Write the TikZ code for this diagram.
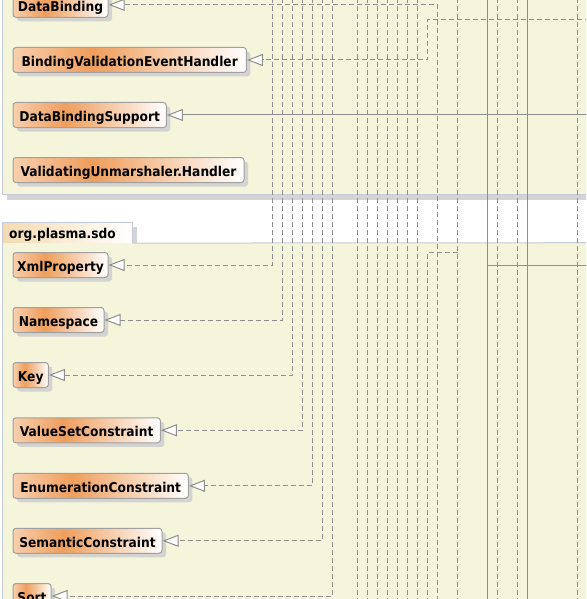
\documentclass[tikz,border=0pt]{standalone}
\usepackage{fontspec}
\newfontfamily\clsfont{DejaVu Sans}[FakeStretch=0.907]
\usetikzlibrary{arrows.meta,shadows}
\definecolor{pkgbg}{HTML}{F5F5DC}
\definecolor{pkgline}{HTML}{C5CAD9}
\definecolor{pkgshadow}{HTML}{D4D4D8}
\definecolor{lnc}{HTML}{8E8E8E}
\definecolor{clsline}{HTML}{A0A0A0}
\definecolor{clsA}{HTML}{F8CFAE}
\definecolor{clsB}{HTML}{EF9E5C}
\definecolor{tabc}{HTML}{F5DAB0}
\definecolor{shc}{HTML}{D3D3CF}
\pgfdeclarehorizontalshading{clsgrad}{100bp}{color(0bp)=(clsA); color(25bp)=(clsA); color(42bp)=(clsB); color(75bp)=(white); color(100bp)=(white)}
\tikzset{
  cls/.style={draw=clsline, line width=1pt, rounded corners=3pt, shading=clsgrad,
    minimum height=25pt, inner sep=0pt, anchor=west, text height=13pt, text depth=0.2pt,
    font=\clsfont\bfseries\fontsize{13.5}{16}\selectfont,
    drop shadow={shadow xshift=4pt, shadow yshift=-4pt, fill=shc, opacity=1}},
  tabst/.style={anchor=north west, minimum width=129.6pt, minimum height=20.4pt,
    text width=117pt, inner xsep=6.3pt, inner ysep=0pt, align=left,
    left color=tabc, right color=white, text height=12pt, text depth=0.4pt,
    font=\clsfont\bfseries\fontsize{13.5}{16}\selectfont},
  dep/.style={draw=lnc, line width=1pt, dash pattern=on 5pt off 3pt},
  real/.style={draw=lnc, line width=1pt},
  gen/.style={-{Triangle[length=16pt,width=12pt,fill=white]}},
  pkgborder/.style={draw=pkgline, line width=1pt},
}
\begin{document}
\begin{tikzpicture}[x=1pt,y=-1pt]
\useasboundingbox (0,0) rectangle (586,599);
\clip (0,0) rectangle (586,599);
\fill[white] (0,0) rectangle (586,599);
% top package
\fill[pkgshadow] (6.7,194.3) rectangle (600,200.3);
\fill[pkgbg] (2.7,-10) rectangle (600,194.3);
\draw[pkgborder] (2.7,-10) -- (2.7,194.3) -- (600,194.3);
% org.plasma.sdo package
\fill[pkgshadow] (132.3,227) rectangle (136.7,242.7);
\fill[pkgbg] (2.7,242.7) rectangle (600,610);
\node[tabst] (tab) at (2.7,222.3) {org.plasma.sdo};
\draw[pkgborder] (tab.south west) |- (tab.north east) -- (tab.south east);
\draw[pkgborder] (2.7,610) -- (tab.south west);
\coordinate (pkgR) at (600,242.7);
\draw[pkgborder] (tab.south east) -- (pkgR);
% classes
\node[cls, minimum width=95pt] (db) at (12.5,4.8) {DataBinding};
\node[cls, minimum width=233.4pt] (bveh) at (12.5,60) {BindingValidationEventHandler};
\node[cls, minimum width=153.4pt] (dbs) at (12.5,115) {DataBindingSupport};
\node[cls, minimum width=231pt] (vuh) at (12.5,170) {ValidatingUnmarshaler.Handler};
\node[cls, minimum width=95pt] (xml) at (12.5,265) {XmlProperty};
\node[cls, minimum width=91pt] (ns) at (12.5,320) {Namespace};
\node[cls, minimum width=35.4pt] (key) at (12.5,375) {Key};
\node[cls, minimum width=147.4pt] (vsc) at (12.5,430.3) {ValueSetConstraint};
\node[cls, minimum width=175.4pt] (ec) at (12.5,485.8) {EnumerationConstraint};
\node[cls, minimum width=149pt] (sc) at (12.5,540.8) {SemanticConstraint};
\node[cls, minimum width=38pt] (sort) at (12.5,596) {Sort};
% pass-through connectors
\foreach \x [count=\i] in {357.5,367.5,377.5,387.5,397.5,407.5,417.5,457.5,497.5,517.5,577.5} {
  \coordinate (va\i) at (\x,-2);
  \coordinate (vb\i) at (\x,601);
  \draw[dep] (va\i) -- (vb\i);
}
\foreach \x [count=\i] in {487.5,527.5} {
  \coordinate (sa\i) at (\x,-2);
  \coordinate (sb\i) at (\x,601);
  \draw[real] (sa\i) -- (sb\i);
}
\coordinate (j1) at (457.5,252.3);
\coordinate (j1b) at (427.5,601);
\draw[dep] (j1) -| (j1b);
\coordinate (k1) at (487.5,265.3);
\coordinate (k1r) at (590,265.3);
\draw[real] (k1) -- (k1r);
% connectors into the classes
\coordinate (dbB) at (437.5,601);
\draw[dep,gen] (dbB) |- (db.east);
\coordinate (bvR) at (590,19.3);
\coordinate (bvT) at (427.5,19.3);
\draw[dep,gen] (bvR) -- (bvT) |- (bveh.east);
\coordinate (dbsR) at (590,115);
\draw[real,gen] (dbsR) -- (dbs.east);
\coordinate (t1) at (272.5,-2);
\coordinate (t2) at (282.5,-2);
\coordinate (t3) at (292.5,-2);
\coordinate (t4) at (302.5,-2);
\coordinate (t5) at (312.5,-2);
\coordinate (t6) at (322.5,-2);
\coordinate (t7) at (332.5,-2);
\draw[dep,gen] (t1) |- (xml.east);
\draw[dep,gen] (t2) |- (ns.east);
\draw[dep,gen] (t3) |- (key.east);
\draw[dep,gen] (t4) |- (vsc.east);
\draw[dep,gen] (t5) |- (ec.east);
\draw[dep,gen] (t6) |- (sc.east);
\draw[dep,gen] (t7) |- (sort.east);
\end{tikzpicture}
\end{document}
